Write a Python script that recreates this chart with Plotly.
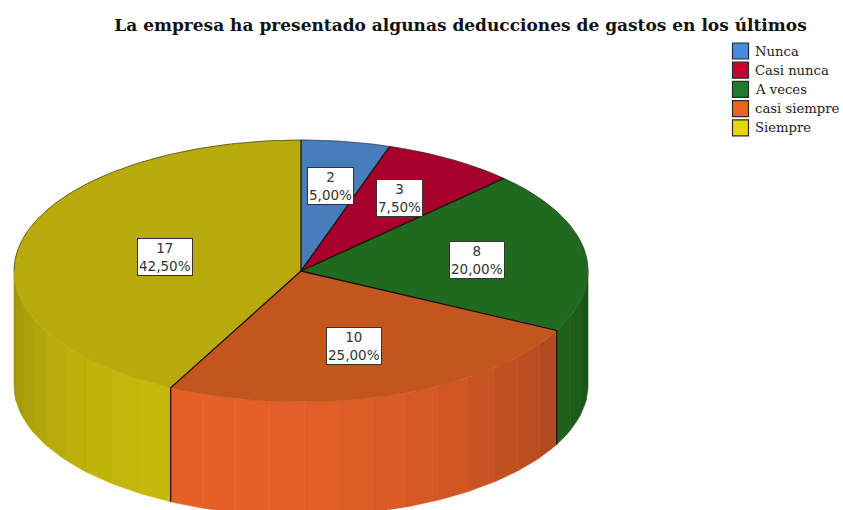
import math
import plotly.graph_objects as go

TITLE = "La empresa ha presentado algunas deducciones de gastos en los últimos"
categories = ["Nunca", "Casi nunca", "A veces", "casi siempre", "Siempre"]
counts = [2, 3, 8, 10, 17]
percent_labels = ["5,00%", "7,50%", "20,00%", "25,00%", "42,50%"]

legend_colors = ["#4a8cd8", "#c8002e", "#1f7d2a", "#ee6422", "#e8d800"]
top_colors = ["#477dbd", "#a8002c", "#1f6a1f", "#c3551f", "#b8aa0c"]
side_rgb = [(70, 125, 190), (170, 0, 45), (42, 130, 35), (230, 96, 40), (200, 188, 12)]

label_x = [330, 399.5, 477, 354, 165]
label_y = [186, 197.5, 259.5, 346, 257]

CX, CY, RX, RY, DEPTH = 301, 271, 287, 131, 114
BAND = 7.0
LEGEND_X, LEGEND_Y, LEGEND_STEP = 740.5, 51, 19.2


def pt(deg, drop=0.0):
    a = math.radians(deg)
    return CX + RX * math.sin(a), CY - RY * math.cos(a) + drop


def arc(a0, a1, drop=0.0, step=1.0):
    n = max(2, int(abs(a1 - a0) / step) + 1)
    return [pt(a0 + (a1 - a0) * i / (n - 1), drop) for i in range(n)]


total = sum(counts)
bounds = [0.0]
for c in counts:
    bounds.append(bounds[-1] + 360.0 * c / total)

fig = go.Figure()

# side wall, faceted
for i in range(len(counts)):
    a0, a1 = max(bounds[i], 90.0), min(bounds[i + 1], 270.0)
    if a1 <= a0:
        continue
    n = max(1, round((a1 - a0) / BAND))
    for k in range(n):
        s0 = a0 + (a1 - a0) * k / n
        s1 = a0 + (a1 - a0) * (k + 1) / n
        mid = (s0 + s1) / 2
        f = 0.70 + 0.30 * math.cos(math.radians(mid - 195))
        r, g, b = (int(v * f) for v in side_rgb[i])
        col = f"rgb({r},{g},{b})"
        poly = arc(s0, s1, 0) + arc(s1, s0, DEPTH)
        fig.add_trace(go.Scatter(
            x=[p[0] for p in poly] + [poly[0][0]],
            y=[p[1] for p in poly] + [poly[0][1]],
            mode="lines", fill="toself", fillcolor=col,
            line=dict(color=col, width=0.6), showlegend=False, hoverinfo="skip"))

# top wedges
for i, name in enumerate(categories):
    poly = [(CX, CY)] + arc(bounds[i], bounds[i + 1]) + [(CX, CY)]
    fig.add_trace(go.Scatter(
        x=[p[0] for p in poly], y=[p[1] for p in poly],
        mode="lines", fill="toself", fillcolor=top_colors[i],
        line=dict(color=top_colors[i], width=0.5), name=name,
        showlegend=False, hoverinfo="skip"))

# radial edges, back rim, vertical cuts
edge = "#1c1208"
for b in bounds[:-1]:
    p = pt(b)
    xs, ys = [CX, p[0]], [CY, p[1]]
    if 90 < b < 270:
        q = pt(b, DEPTH)
        xs.append(q[0])
        ys.append(q[1])
    fig.add_trace(go.Scatter(x=xs, y=ys, mode="lines",
                             line=dict(color=edge, width=1.3),
                             showlegend=False, hoverinfo="skip"))
rim = arc(270, 450)
fig.add_trace(go.Scatter(x=[p[0] for p in rim], y=[p[1] for p in rim], mode="lines",
                         line=dict(color="#2a2a20", width=0.6),
                         showlegend=False, hoverinfo="skip"))

# legend swatches
fig.add_trace(go.Scatter(
    x=[LEGEND_X] * len(categories),
    y=[LEGEND_Y + LEGEND_STEP * i for i in range(len(categories))],
    mode="markers",
    marker=dict(symbol="square", size=16, color=legend_colors,
                line=dict(color="#2b2b2b", width=1.2)),
    showlegend=False, hoverinfo="skip"))

anns = []
for i, name in enumerate(categories):
    anns.append(dict(x=753, y=LEGEND_Y + LEGEND_STEP * i, xref="x", yref="y",
                     text=name, showarrow=False, xanchor="left", yanchor="middle",
                     font=dict(family="DejaVu Serif", size=13.2, color="#222222")))
for i in range(len(counts)):
    anns.append(dict(x=label_x[i], y=label_y[i], xref="x", yref="y",
                     text=f"{counts[i]}<br>{percent_labels[i]}", showarrow=False,
                     align="center", bgcolor="white", bordercolor="#333333",
                     borderwidth=1, borderpad=1,
                     font=dict(family="DejaVu Sans", size=13.5, color="#333333")))

fig.update_layout(
    width=843, height=510, margin=dict(l=0, r=0, t=0, b=0),
    paper_bgcolor="white", plot_bgcolor="white", showlegend=False,
    title=dict(text=f"<b>{TITLE}</b>", x=460.5 / 843, xanchor="center",
               y=1 - 25 / 510, yanchor="middle",
               font=dict(family="DejaVu Serif", size=17, color="#111111")),
    xaxis=dict(range=[0, 843], visible=False, fixedrange=True),
    yaxis=dict(range=[510, 0], visible=False, fixedrange=True),
    annotations=anns,
)
fig.write_html("out.html", config=dict(displayModeBar=False),
               post_script="document.body.style.margin='0';document.documentElement.style.overflow='hidden';")
